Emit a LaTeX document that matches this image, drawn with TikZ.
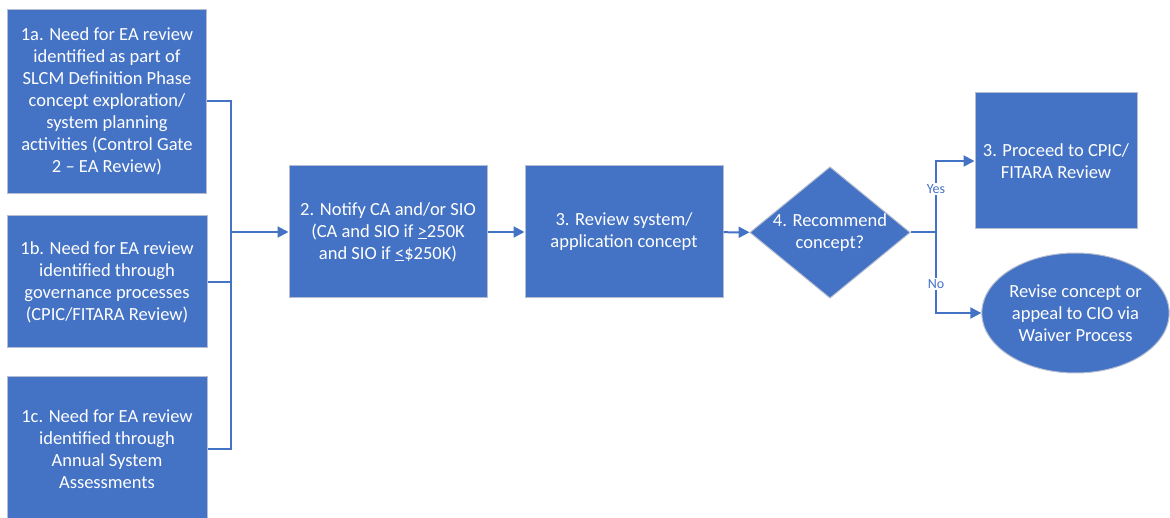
\documentclass[tikz,border=0pt]{standalone}
\usepackage{fontspec}
\setmainfont{Carlito}
\usepackage{xcolor}
\usetikzlibrary{arrows.meta,shapes.geometric}
\usetikzlibrary{positioning}
\definecolor{officeblue}{HTML}{4472C4}
\definecolor{edgegray}{HTML}{B4BED0}

\begin{document}
\begin{tikzpicture}[x=1pt, y=-1pt, line width=2pt, >={Triangle[length=11pt,width=11pt]}]
\tikzstyle{stepbox} = [rectangle, fill = officeblue, draw = edgegray, line width = 1pt, text = white, align = center, font = \fontsize{18.5}{22}\selectfont, inner sep = 2pt]
\tikzstyle{decision} = [stepbox, diamond, aspect = 1.22, inner sep = 0pt]
\tikzstyle{outcome} = [stepbox, ellipse, inner sep = 0pt]
\tikzstyle{link} = [draw = officeblue, line width = 2pt]
\tikzstyle{answer} = [fill = white, text = officeblue, font = \fontsize{14}{16}\selectfont, inner sep = 1pt]
\useasboundingbox (0,0) rectangle (1170,518);
\node (need1a) [stepbox, minimum width = 199pt, minimum height = 184pt] at (107,101.5) {1a. Need for EA review\\identified as part of\\SLCM Definition Phase\\concept exploration/\\system planning\\activities (Control Gate\\2 -- EA Review)};
\node (need1b) [stepbox, minimum width = 200pt, minimum height = 132pt] at (107,282) {1b. Need for EA review\\identified through\\governance processes\\(CPIC/FITARA Review)};
\node (need1c) [stepbox, minimum width = 200pt, minimum height = 144pt] at (107,449) {1c. Need for EA review\\identified through\\Annual System\\Assessments};
\node (notify) [stepbox, minimum width = 198pt, minimum height = 132pt] at (388,232) {2. Notify CA and/or SIO\\(CA and SIO if \underline{>}250K\\and SIO if \underline{<}\$250K)};
\node (review) [stepbox, minimum width = 198pt, minimum height = 132pt] at (624,232) {3. Review system/\\application concept};
\node (recommend) [decision, minimum width = 160pt, minimum height = 131pt] at (830,232.5) {4. Recommend\\concept?};
\node (proceed) [stepbox, minimum width = 162pt, minimum height = 136pt] at (1056,161) {3. Proceed to CPIC/\\FITARA Review};
\node (revise) [outcome, minimum width = 181pt, minimum height = 120pt] at (1075.5,313) {Revise concept or\\appeal to CIO via\\Waiver Process};
\coordinate (merge) at (231,232);
\coordinate (split) at (936,232.5);
\draw [link] (need1a.east) -| (merge);
\draw [link] (need1c.east) -| (merge);
\draw [link] (need1b.east) -- (need1b.east -| merge);
\draw [link, ->] (merge) -- (notify);
\draw [link, ->] (notify) -- (review);
\draw [link, ->] (review) -- (recommend);
\draw [link] (recommend) -- (split);
\draw [link, ->] (split) |- (proceed);
\draw [link, ->] (split) |- (revise);
\node (yes) [answer] at (936,189) {Yes};
\node (no) [answer] at (936,284) {No};
\end{tikzpicture}
\end{document}
